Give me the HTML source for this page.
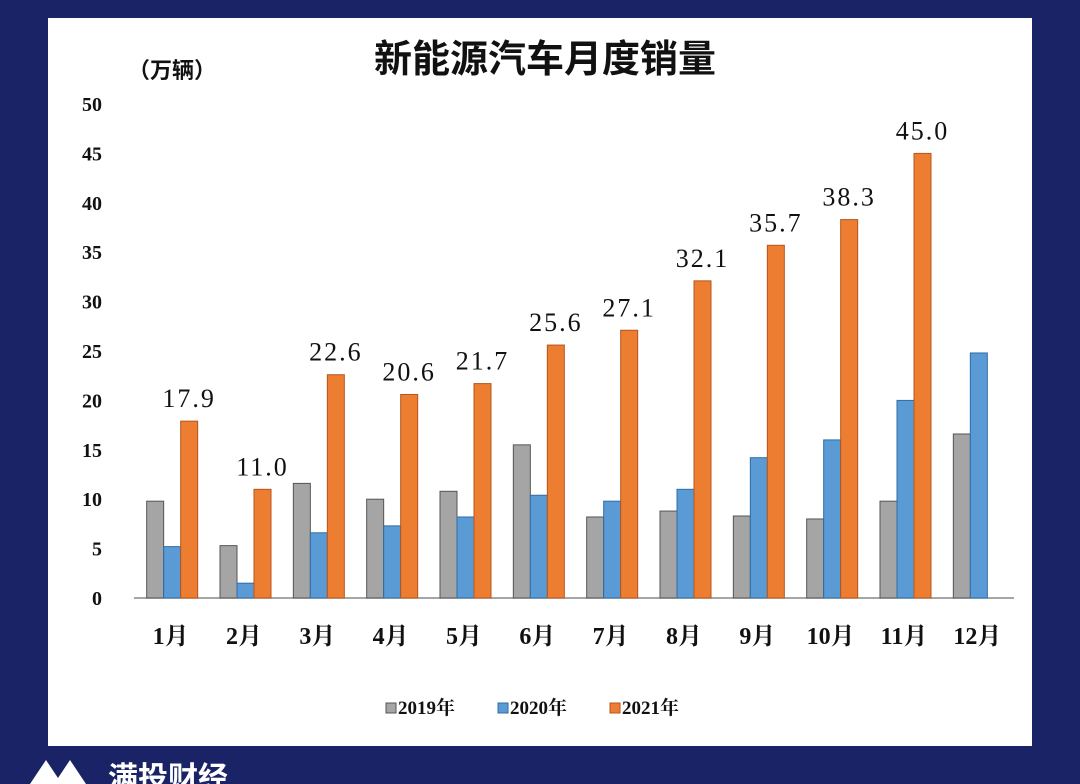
<!DOCTYPE html>
<html><head><meta charset="utf-8"><style>
body{margin:0;width:1080px;height:784px;overflow:hidden;background:#1a2366;font-family:"Liberation Serif","Noto Serif CJK SC",serif;}
#panel{position:absolute;left:48px;top:18px;width:984px;height:728px;background:#fff;}
svg text{font-family:"Liberation Serif","Noto Serif CJK SC",serif;}
svg text.sans{font-family:"Liberation Sans","Noto Sans CJK SC",sans-serif;}
</style></head><body>
<div id="panel"></div>
<svg id="chart" width="1080" height="784" style="position:absolute;left:0;top:0">
<text class="sans" x="545" y="72" text-anchor="middle" font-size="38" font-weight="bold" fill="#111">新能源汽车月度销量</text>
<text class="sans" x="128" y="78" font-size="22" font-weight="bold" fill="#111">（万辆）</text>
<g id="g"></g>
<g>
<path d="M30 784 L46 760 L58 778 L70 760 L86 784 Z" fill="#fff"/>
<text class="sans" x="108" y="788" font-size="30" font-weight="bold" fill="#fff">满投财经</text>
</g>
</svg>
<script>
const categories=["1月","2月","3月","4月","5月","6月","7月","8月","9月","10月","11月","12月"];
const s2019=[9.8,5.3,11.6,10.0,10.8,15.5,8.2,8.8,8.3,8.0,9.8,16.6];
const s2020=[5.2,1.5,6.6,7.3,8.2,10.4,9.8,11.0,14.2,16.0,20.0,24.8];
const s2021=[17.9,11.0,22.6,20.6,21.7,25.6,27.1,32.1,35.7,38.3,45.0,null];
const yTicks=[0,5,10,15,20,25,30,35,40,45,50];
const seriesNames=["2019年","2020年","2021年"];
const NS="http://www.w3.org/2000/svg";
const g=document.getElementById('g');
const x0=134,x1=1014,y0=598,yTop=104;
const y=v=>y0-(v/50)*(y0-yTop);
const cx=i=>x0+(x1-x0)/12*(i+0.5);
function mk(t,a){const e=document.createElementNS(NS,t);for(const k in a)e.setAttribute(k,a[k]);g.appendChild(e);return e;}
yTicks.forEach(t=>{const e=mk('text',{x:102,y:y(t)+7,'text-anchor':'end','font-size':20,'font-weight':'bold',fill:'#111'});e.textContent=t;

});
const ax=mk('line',{x1:x0,x2:x1,y1:y0,y2:y0,stroke:'#888','stroke-width':1.5});


const cols=[["#a5a5a5","#555"],["#5b9bd5","#2e6da4"],["#ed7d31","#b5561c"]];
const offs=[-24,-7,10];const bw=17;
categories.forEach((c,i)=>{
 [s2019,s2020,s2021].forEach((s,k)=>{const v=s[i];if(v==null)return;
  const r=mk('rect',{x:cx(i)+offs[k],y:y(v),width:bw,height:y0-y(v),fill:cols[k][0],stroke:cols[k][1],'stroke-width':1});
  
  
  if(k==2){const t=mk('text',{x:cx(i)+offs[k]+bw/2,y:y(v)-14,'text-anchor':'middle','font-size':26,fill:'#111','letter-spacing':'2'});t.textContent=v.toFixed(1);
  
  }
 });
 const t=mk('text',{x:cx(i),y:644,'text-anchor':'middle','font-size':24,'font-weight':'bold',fill:'#111'});t.textContent=c;
 
 
});
const lx=[386,498,610];
seriesNames.forEach((n,k)=>{
 const r=mk('rect',{x:lx[k],y:703,width:10,height:10,fill:cols[k][0],stroke:cols[k][1]});
 
 
 const t=mk('text',{x:lx[k]+12,y:714,'font-size':19,'font-weight':'bold',fill:'#111'});t.textContent=n;
 
 
});
</script>
</body></html>
